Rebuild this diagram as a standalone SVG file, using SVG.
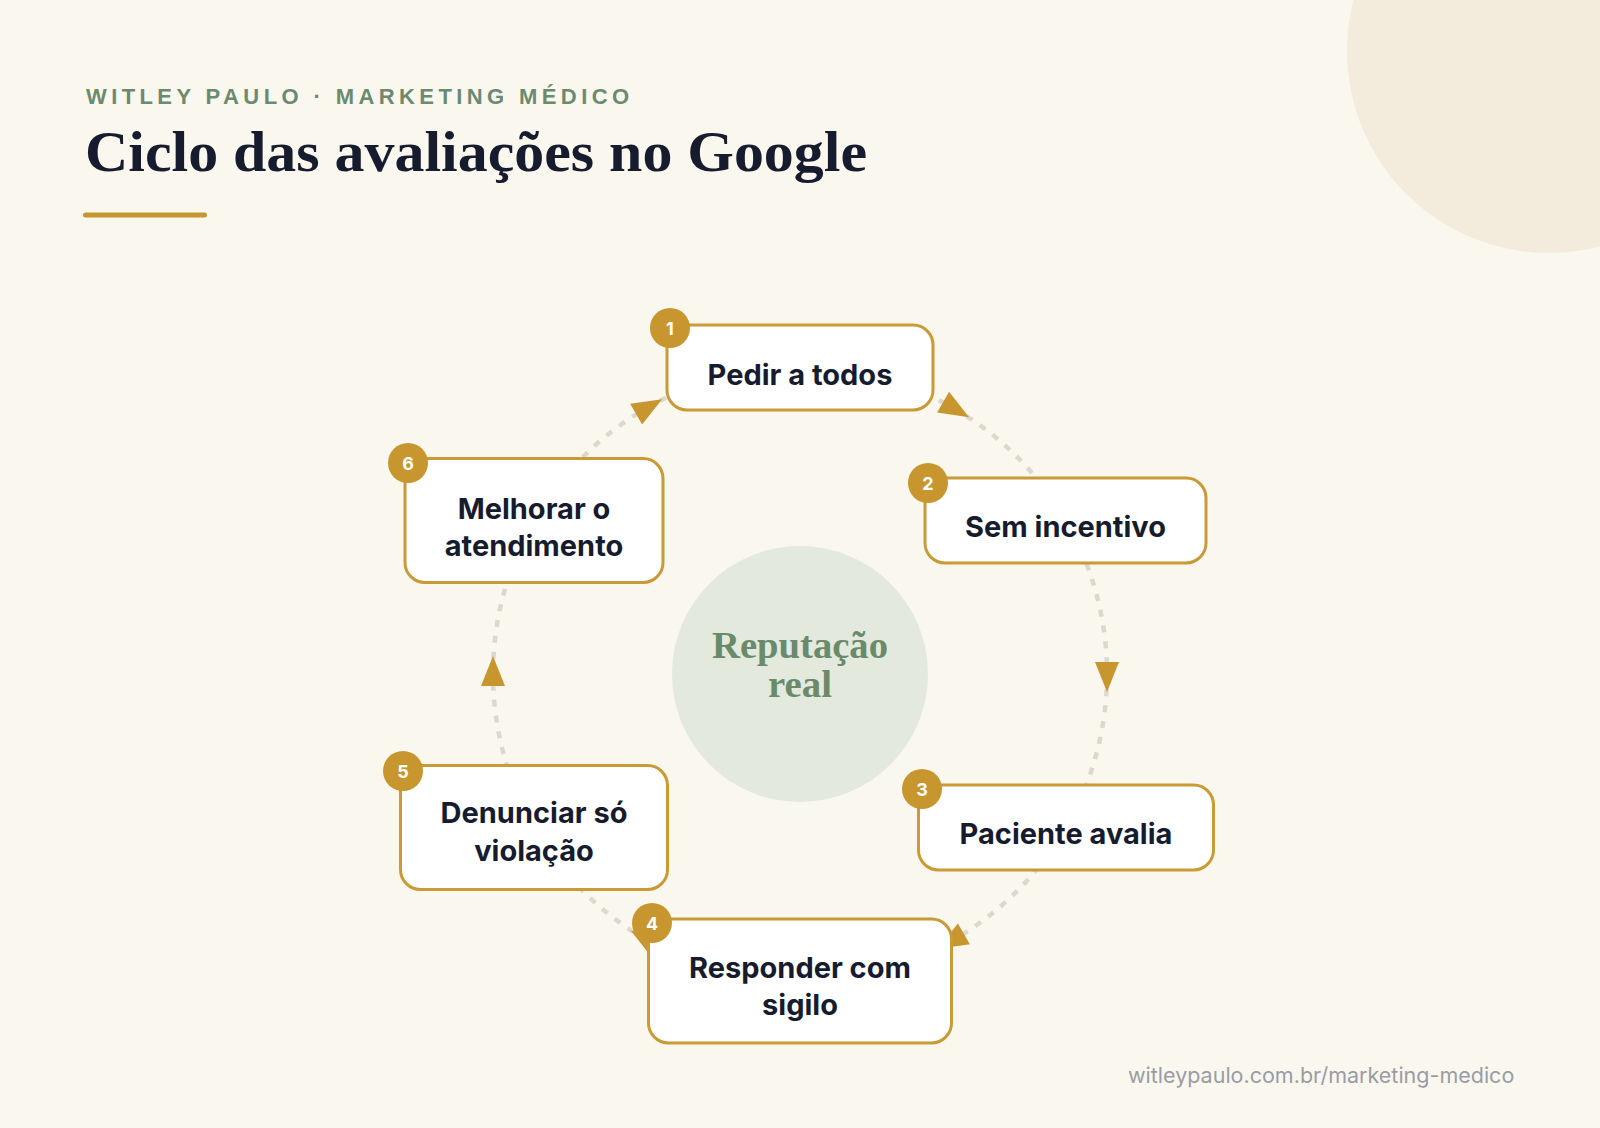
<svg xmlns="http://www.w3.org/2000/svg" width="1600" height="1128" viewBox="0 0 1600 1128">
  <defs>
    <style>
      .bg { fill: #faf7ef; }
      .eyebrow { font-family: "Liberation Sans", Arial, sans-serif; font-weight: 700; font-size: 22px; letter-spacing: 4.4px; fill: #6b8a6e; }
      .title { font-family: "Liberation Serif", "DejaVu Serif", serif; font-weight: 700; font-size: 58px; fill: #161b2e; }
      .box { fill: #ffffff; stroke: #c99a36; stroke-width: 3; }
      .badge { fill: #c8962f; }
      .badge-num { font-family: Inter, "Liberation Sans", sans-serif; font-weight: 700; font-size: 18px; fill: #ffffff; text-anchor: middle; }
      .label { font-family: Inter, "Liberation Sans", sans-serif; font-weight: 700; font-size: 29px; fill: #161b2e; text-anchor: middle; }
      .arc { fill: none; stroke: #dcd8cc; stroke-width: 4.5; stroke-dasharray: 7 9; marker-mid: url(#arrow); }
      .center-text { font-family: "Liberation Serif", "DejaVu Serif", serif; font-weight: 700; font-size: 37px; fill: #6a8a6c; text-anchor: middle; }
      .footer { font-family: Inter, "Liberation Sans", sans-serif; font-size: 21.5px; fill: #9a9ca5; }
    </style>
    <marker id="arrow" markerUnits="userSpaceOnUse" viewBox="0 0 30 24" markerWidth="30" markerHeight="24" refX="12" refY="12" orient="auto" overflow="visible">
      <path d="M0,0 L30,12 L0,24 Z" fill="#c8962f"/>
    </marker>
  </defs>

  <rect class="bg" x="0" y="0" width="1600" height="1128"/>
  <circle cx="1549" cy="51" r="202" fill="#f3ecdc"/>

  <g id="header">
    <text class="eyebrow" x="86" y="104">WITLEY PAULO · MARKETING MÉDICO</text>
    <text class="title" x="85" y="171" textLength="782" lengthAdjust="spacingAndGlyphs">Ciclo das avaliações no Google</text>
    <rect x="83" y="212.5" width="124" height="5" rx="2.5" fill="#c8962f"/>
  </g>

  <g id="center">
    <circle cx="800" cy="674" r="128" fill="#e3e9dc"/>
    <text class="center-text" x="800" y="658" textLength="176" lengthAdjust="spacingAndGlyphs">Reputação</text>
    <text class="center-text" x="800" y="697" textLength="64" lengthAdjust="spacingAndGlyphs">real</text>
  </g>

  <g id="connectors">
    <path class="arc" d="M800,367 A307,307 0 0 1 953.5,408.13 A307,307 0 0 1 1065.87,520.5"/>
    <path class="arc" d="M1065.87,520.5 A307,307 0 0 1 1107,674 A307,307 0 0 1 1065.87,827.5"/>
    <path class="arc" d="M1065.87,827.5 A307,307 0 0 1 953.5,939.87 A307,307 0 0 1 800,981"/>
    <path class="arc" d="M800,981 A307,307 0 0 1 646.5,939.87 A307,307 0 0 1 534.13,827.5"/>
    <path class="arc" d="M534.13,827.5 A307,307 0 0 1 493,674 A307,307 0 0 1 534.13,520.5"/>
    <path class="arc" d="M534.13,520.5 A307,307 0 0 1 646.5,408.13 A307,307 0 0 1 800,367"/>
  </g>

  <g id="node1">
    <rect class="box" x="667" y="325" width="266" height="85" rx="20"/>
    <text class="label" x="800" y="385">Pedir a todos</text>
    <circle class="badge" cx="670" cy="328" r="20"/>
    <text class="badge-num" x="670" y="334.5">1</text>
  </g>

  <g id="node2">
    <rect class="box" x="925" y="478" width="281" height="85" rx="20"/>
    <text class="label" x="1065.5" y="537">Sem incentivo</text>
    <circle class="badge" cx="928" cy="483" r="20"/>
    <text class="badge-num" x="928" y="489.5">2</text>
  </g>

  <g id="node3">
    <rect class="box" x="918.5" y="785" width="295" height="85" rx="20"/>
    <text class="label" x="1066" y="844">Paciente avalia</text>
    <circle class="badge" cx="922" cy="789" r="20"/>
    <text class="badge-num" x="922" y="795.5">3</text>
  </g>

  <g id="node4">
    <rect class="box" x="648.5" y="919" width="303" height="124" rx="20"/>
    <text class="label" x="800" y="978">Responder com</text>
    <text class="label" x="800" y="1015">sigilo</text>
    <circle class="badge" cx="652" cy="923" r="20"/>
    <text class="badge-num" x="652" y="929.5">4</text>
  </g>

  <g id="node5">
    <rect class="box" x="400.5" y="765.5" width="267" height="124" rx="20"/>
    <text class="label" x="534" y="823">Denunciar só</text>
    <text class="label" x="534" y="861">violação</text>
    <circle class="badge" cx="403" cy="771" r="20"/>
    <text class="badge-num" x="403" y="777.5">5</text>
  </g>

  <g id="node6">
    <rect class="box" x="405" y="458.5" width="258" height="124" rx="20"/>
    <text class="label" x="534" y="519">Melhorar o</text>
    <text class="label" x="534" y="556">atendimento</text>
    <circle class="badge" cx="408" cy="463" r="20"/>
    <text class="badge-num" x="408" y="469.5">6</text>
  </g>

  <text class="footer" x="1128" y="1083">witleypaulo.com.br/marketing-medico</text>
</svg>
